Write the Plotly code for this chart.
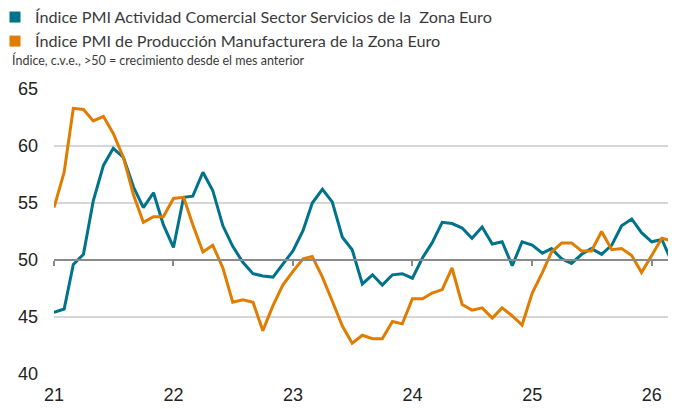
import pandas as pd
import plotly.graph_objects as go

months = pd.date_range("2021-01-01", periods=63, freq="MS")

servicios = [
    45.4, 45.7, 49.6, 50.5, 55.2, 58.3, 59.8, 59.0, 56.4, 54.6, 55.9, 53.1,
    51.1, 55.5, 55.6, 57.7, 56.1, 53.0, 51.2, 49.8, 48.8, 48.6, 48.5, 49.6,
    50.8, 52.6, 55.0, 56.2, 55.1, 52.0, 50.9, 47.9, 48.7, 47.8, 48.7, 48.8,
    48.4, 50.2, 51.5, 53.3, 53.2, 52.8, 51.9, 52.9, 51.4, 51.6, 49.5, 51.6,
    51.3, 50.6, 51.0, 50.1, 49.7, 50.5, 51.0, 50.5, 51.3, 53.0, 53.6, 52.4,
    51.6, 51.8, 50.0,
]

manufactura = [
    54.6, 57.7, 63.3, 63.2, 62.2, 62.6, 61.1, 59.0, 55.7, 53.3, 53.8, 53.8,
    55.4, 55.5, 53.1, 50.7, 51.3, 49.3, 46.3, 46.5, 46.3, 43.8, 46.0, 47.8,
    49.0, 50.1, 50.3, 48.5, 46.4, 44.2, 42.7, 43.4, 43.1, 43.1, 44.6, 44.4,
    46.6, 46.6, 47.1, 47.4, 49.3, 46.1, 45.6, 45.8, 44.9, 45.8, 45.1, 44.3,
    47.1, 48.9, 50.7, 51.5, 51.5, 50.8, 50.8, 52.5, 50.9, 51.0, 50.4, 48.9,
    50.4, 51.9, 51.7,
]

tick_vals = ["2021-01-01", "2022-01-01", "2023-01-01", "2024-01-01", "2025-01-01", "2026-01-01"]
tick_text = ["21", "22", "23", "24", "25", "26"]

name_serv = "Índice PMI Actividad Comercial Sector Servicios de la  Zona Euro"
name_manu = "Índice PMI de Producción Manufacturera de la Zona Euro"
subtitle = "Índice, c.v.e., >50 = crecimiento desde el mes anterior"

TEAL = "#00738C"
ORANGE = "#E07C00"
NARROW = "Lato, Roboto, Liberation Sans, sans-serif"
TICKFONT = "Liberation Sans, Arial, sans-serif"

# page body adds an 8px offset; margins compensate so the plot lands where the reference has it
L, R, T, B = 46, 13, 81, 43
PW = 676 - L - R
PH = 409 - T - B

fig = go.Figure()

# invisible trace anchoring the secondary x axis (the 50 baseline with ticks)
fig.add_trace(go.Scatter(x=months, y=servicios, xaxis="x2", yaxis="y",
                         mode="lines", line=dict(width=0), opacity=0,
                         hoverinfo="skip", showlegend=False))

fig.add_trace(go.Scatter(x=months, y=servicios, mode="lines",
                         line=dict(color=TEAL, width=3), showlegend=False, name=name_serv))
fig.add_trace(go.Scatter(x=months, y=manufactura, mode="lines",
                         line=dict(color=ORANGE, width=3), showlegend=False, name=name_manu))

# legend entries with square swatches
fig.add_trace(go.Scatter(x=[None], y=[None], mode="markers", name=name_serv,
                         marker=dict(symbol="square", size=11, color=TEAL)))
fig.add_trace(go.Scatter(x=[None], y=[None], mode="markers", name=name_manu,
                         marker=dict(symbol="square", size=11, color=ORANGE)))

fig.update_layout(
    width=676, height=409,
    margin=dict(l=L, r=R, t=T, b=B, autoexpand=False),
    paper_bgcolor="white", plot_bgcolor="white",
    showlegend=True,
    legend=dict(x=(-13 - L) / PW, y=1 + (T + 8) / PH,
                xref="paper", yref="paper",
                xanchor="left", yanchor="top",
                font=dict(family=NARROW, size=16.2, color="#3a3a3a"),
                tracegroupgap=0, itemwidth=30, bgcolor="rgba(0,0,0,0)"),
    xaxis=dict(type="date", range=["2021-01-01", "2026-03-01"],
               tickvals=tick_vals, ticktext=tick_text,
               showgrid=False, showline=False, zeroline=False, ticks="",
               ticklabelstandoff=8,
               tickfont=dict(family=TICKFONT, size=18, color="#222222")),
    xaxis2=dict(type="date", matches="x", overlaying="x", anchor="free", position=0.4,
                tickvals=tick_vals, showticklabels=False, showgrid=False, zeroline=False,
                showline=True, linecolor="#8a8a8a", linewidth=1.5,
                ticks="outside", ticklen=5, tickcolor="#8a8a8a", tickwidth=1.5),
    yaxis=dict(range=[40, 65], tickvals=[40, 45, 50, 55, 60, 65],
               showgrid=True, gridcolor="#d6d6d6", gridwidth=1.5,
               zeroline=False, showline=False, ticks="",
               ticklabelstandoff=15,
               tickfont=dict(family=TICKFONT, size=18, color="#222222")),
    annotations=[dict(text=subtitle, xref="paper", yref="paper",
                      x=(2 - L) / PW, y=1 + (T - 52) / PH, xanchor="left", yanchor="middle",
                      showarrow=False,
                      font=dict(family=NARROW, size=12.5, color="#3a3a3a"))],
)

fig.write_html("out.html")
